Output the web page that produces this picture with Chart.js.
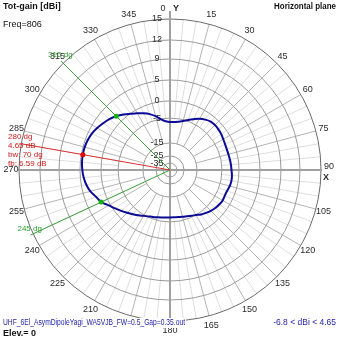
<!DOCTYPE html>
<html>
<head>
<meta charset="utf-8">
<script src="https://cdn.jsdelivr.net/npm/chart.js@4/dist/chart.umd.min.js"></script>
<style>
  html, body { margin: 0; padding: 0; background: #fff; }
  canvas { display: block; }
</style>
</head>
<body>
<canvas id="plot" width="339" height="339"></canvas>
<script>
// Azimuth (deg, 0 = +Y at top, clockwise) and total gain (dBi), horizontal cut
const azimuths = [
  0, 5, 10, 15, 20, 25, 30, 35, 40, 45, 50, 55,
  60, 65, 70, 75, 80, 85, 90, 95, 100, 105, 110, 115,
  120, 125, 130, 135, 140, 145, 150, 155, 160, 165, 170, 175,
  180, 185, 190, 195, 200, 205, 210, 215, 220, 225, 230, 235,
  240, 245, 250, 255, 260, 265, 270, 275, 280, 285, 290, 295,
  300, 305, 310, 315, 320, 325, 330, 335, 340, 345, 350, 355
];
const gainDbi = [
  -6.6, -6.5, -6.2, -5.5, -4.6, -3.8, -2.9, -2.2, -1.7, -1.6, -1.7, -1.9,
  -2.2, -2.4, -2.5, -2.5, -2.4, -2.3, -2.2, -2.0, -1.94, -2.1, -2.4, -2.5,
  -2.4, -2.6, -2.9, -3.3, -3.8, -4.3, -5.0, -5.6, -6.1, -6.4, -6.7, -6.8,
  -6.8, -6.7, -6.5, -6.2, -5.8, -5.3, -4.7, -4.0, -3.3, -2.5, -1.6, -0.6,
  0.4, 1.65, 2.3, 3.2, 3.8, 4.2, 4.45, 4.6, 4.65, 4.6, 4.4, 4.1,
  3.6, 3.0, 2.4, 1.65, 0.8, -0.1, -1.0, -1.9, -2.8, -3.9, -5.2, -6.2
];
// Gain rings (dBi) and the compass labels around the rim
const ringTicks = [15, 12, 9, 5, 0, -5, -15, -25, -35];
const rimLabels = ['0', '15', '30', '45', '60', '75', '90', '105', '120', '135', '150', '165',
                   '180', '195', '210', '225', '240', '255', '270', '285', '300', '315', '330', '345'];
// Main lobe marker and half-power (-3 dB) points
const peakAz = 280, peakGain = 4.65;
const halfPowerAz = [315, 245], halfPowerGain = [1.65, 1.65];
const beamwidthDeg = 70, frontToBackDb = 6.59;
const minGain = -6.8;
const frequencyMHz = 806, elevationDeg = 0;
const fileName = 'UHF_6El_AsymDipoleYagi_WA5VJB_FW=0.5_Gap=0.35.out';

const FONT = '"Liberation Sans", Arial, sans-serif';

// Log-style radius law of the gain grid: dBi -> fraction of the outer radius
const RADIUS_LAW = [[15, 1.0], [12, 0.861], [9, 0.735], [5, 0.596], [0, 0.457],
                    [-5, 0.344], [-15, 0.179], [-25, 0.093], [-35, 0.046], [-45, 0]];
function gainFraction(v) {
  if (v >= RADIUS_LAW[0][0]) return RADIUS_LAW[0][1];
  for (let i = 1; i < RADIUS_LAW.length; i++) {
    const [g1, f1] = RADIUS_LAW[i - 1], [g2, f2] = RADIUS_LAW[i];
    if (v >= g2) return f2 + (v - g2) / (g1 - g2) * (f1 - f2);
  }
  return 0;
}

const { RadialLinearScale } = Chart;
class GainRadialScale extends RadialLinearScale {
  getDistanceFromCenterForValue(value) {
    if (value === null || Number.isNaN(value)) return NaN;
    return this.drawingArea * gainFraction(value);
  }
  drawGrid() {
    const ctx = this.ctx, R = this.drawingArea, cx = this.xCenter, cy = this.yCenter;
    ctx.save();
    ctx.lineWidth = 1;
    // spokes every 5 deg, stronger every 15 deg
    azimuths.forEach((az, i) => {
      if (az % 90 === 0) return;
      const major = az % 15 === 0;
      const p0 = this.getPointPosition(i, this.getDistanceFromCenterForValue(major ? -15 : -5));
      const p1 = this.getPointPosition(i, R);
      ctx.strokeStyle = major ? '#b4b4b4' : '#dedede';
      ctx.beginPath(); ctx.moveTo(p0.x, p0.y); ctx.lineTo(p1.x, p1.y); ctx.stroke();
    });
    // gain rings
    this.ticks.forEach(t => {
      const r = this.getDistanceFromCenterForValue(t.value);
      ctx.strokeStyle = t.value === this.max ? '#6a6a6a' : '#9a9a9a';
      ctx.beginPath(); ctx.arc(cx, cy, r, 0, Math.PI * 2); ctx.stroke();
    });
    // X / Y axes
    ctx.strokeStyle = '#a0a0a0';
    ctx.lineWidth = 2;
    ctx.beginPath();
    ctx.moveTo(cx - R - 1, cy); ctx.lineTo(cx + R + 1, cy);
    ctx.moveTo(cx, cy - R - 8); ctx.lineTo(cx, cy + R + 1);
    ctx.stroke();
    ctx.restore();
  }
  drawLabels() {
    const ctx = this.ctx, R = this.drawingArea, cx = this.xCenter, cy = this.yCenter;
    ctx.save();
    ctx.font = '9px ' + FONT;
    ctx.fillStyle = '#2a2a2a';
    ctx.textBaseline = 'middle';
    ctx.textAlign = 'center';
    // gain values on the rings, just left of the Y axis
    this.ticks.forEach(t => {
      const r = this.getDistanceFromCenterForValue(t.value);
      ctx.fillText(String(t.value), cx - 13, cy - r);
    });
    // compass labels
    rimLabels.forEach(lbl => {
      const az = Number(lbl);
      const i = azimuths.indexOf(az);
      const a = this.getIndexAngle(i) - Math.PI / 2;
      let x = cx + Math.cos(a) * (R + 8);
      let y = cy + Math.sin(a) * (R + 10);
      if (az === 0) x -= 7;
      if (az === 90) y -= 3;
      ctx.fillText(lbl, x, y);
    });
    ctx.font = 'bold 9px ' + FONT;
    ctx.fillText('Y', cx + 6, cy - R - 10);
    ctx.fillText('X', cx + R + 5, cy + 8);
    ctx.restore();
  }
}
GainRadialScale.id = 'gainRadial';
GainRadialScale.defaults = RadialLinearScale.defaults;
GainRadialScale.defaultRoutes = RadialLinearScale.defaultRoutes;
GainRadialScale.descriptors = RadialLinearScale.descriptors;
Chart.register(GainRadialScale);

function markerSeries(azList, gains) {
  return azimuths.map(az => {
    const k = azList.indexOf(az);
    return k >= 0 ? gains[k] : null;
  });
}

// Marker spokes and their annotations
const markerPlugin = {
  id: 'lobeMarkers',
  beforeDatasetsDraw(chart) {
    const s = chart.scales.r, ctx = chart.ctx, R = s.drawingArea;
    const c = { x: s.xCenter, y: s.yCenter };
    ctx.save();
    ctx.lineWidth = 1;
    ctx.strokeStyle = '#3aa03a';
    halfPowerAz.forEach(az => {
      const p = s.getPointPosition(azimuths.indexOf(az), R + 3);
      ctx.beginPath(); ctx.moveTo(c.x, c.y); ctx.lineTo(p.x, p.y); ctx.stroke();
    });
    ctx.strokeStyle = '#d83030';
    const pr = s.getPointPosition(azimuths.indexOf(peakAz), R);
    ctx.beginPath(); ctx.moveTo(c.x, c.y); ctx.lineTo(pr.x, pr.y); ctx.stroke();

    ctx.font = '8px ' + FONT;
    ctx.textBaseline = 'middle';
    ctx.textAlign = 'left';
    ctx.fillStyle = '#2e9a2e';
    halfPowerAz.forEach(az => {
      const p = s.getPointPosition(azimuths.indexOf(az), R + 3);
      ctx.fillText(az + ' dg', p.x - 13, p.y - 6);
    });
    ctx.fillStyle = '#d01818';
    const tx = 8, ty = pr.y - 7;
    ctx.fillText(peakAz + ' dg', tx, ty);
    ctx.fillText(peakGain.toFixed(2) + ' dB', tx, ty + 9);
    ctx.fillText('bw: ' + beamwidthDeg + ' dg', tx, ty + 18);
    ctx.fillText('fb: ' + frontToBackDb.toFixed(2) + ' dB', tx, ty + 27);
    ctx.restore();
  },
  afterDraw(chart) {
    const ctx = chart.ctx, W = chart.width;
    ctx.save();
    ctx.textBaseline = 'middle';
    ctx.fillStyle = '#111';
    ctx.font = 'bold 9px ' + FONT;
    ctx.textAlign = 'left';
    ctx.fillText('Tot-gain [dBi]', 3, 7);
    ctx.fillText('Elev.= ' + elevationDeg, 3, 334);
    ctx.textAlign = 'right';
    ctx.fillText('Horizontal plane', W - 3, 7, 62);
    ctx.font = '9px ' + FONT;
    ctx.textAlign = 'left';
    ctx.fillText('Freq=' + frequencyMHz, 3, 25);
    ctx.fillStyle = '#2424a8';
    ctx.font = '8.5px ' + FONT;
    ctx.save(); ctx.fillStyle = '#fff'; ctx.fillRect(2, 318, 184, 10); ctx.restore();
    ctx.fillText(fileName, 3, 323, 182);
    ctx.textAlign = 'right';
    ctx.fillText(minGain + ' < dBi < ' + peakGain, W - 3, 323);
    ctx.restore();
  }
};

new Chart(document.getElementById('plot'), {
  type: 'radar',
  data: {
    labels: azimuths.map(String),
    datasets: [
      {
        label: 'max',
        data: markerSeries([peakAz], [peakGain]),
        showLine: false,
        pointRadius: 2.5,
        pointBorderWidth: 0,
        pointBackgroundColor: '#e00000',
        order: 0
      },
      {
        label: '-3 dB',
        data: markerSeries(halfPowerAz, halfPowerGain),
        showLine: false,
        pointRadius: 2.5,
        pointBorderWidth: 0,
        pointBackgroundColor: '#10b010',
        order: 0
      },
      {
        label: 'Tot-gain',
        data: gainDbi,
        borderColor: '#0a0a96',
        borderWidth: 2,
        fill: false,
        pointRadius: 0,
        tension: 0.3,
        order: 1
      }
    ]
  },
  options: {
    responsive: false,
    animation: false,
    devicePixelRatio: 1,
    layout: { padding: { left: 19, right: 18, top: 19, bottom: 18 } },
    plugins: { legend: { display: false }, tooltip: { enabled: false } },
    scales: {
      r: {
        type: 'gainRadial',
        min: -45,
        max: 15,
        startAngle: 0,
        afterBuildTicks: (scale) => { scale.ticks = ringTicks.map(v => ({ value: v })); },
        ticks: { display: false },
        pointLabels: { display: false },
        grid: { display: true },
        angleLines: { display: false }
      }
    }
  },
  plugins: [markerPlugin]
});
</script>
</body>
</html>
